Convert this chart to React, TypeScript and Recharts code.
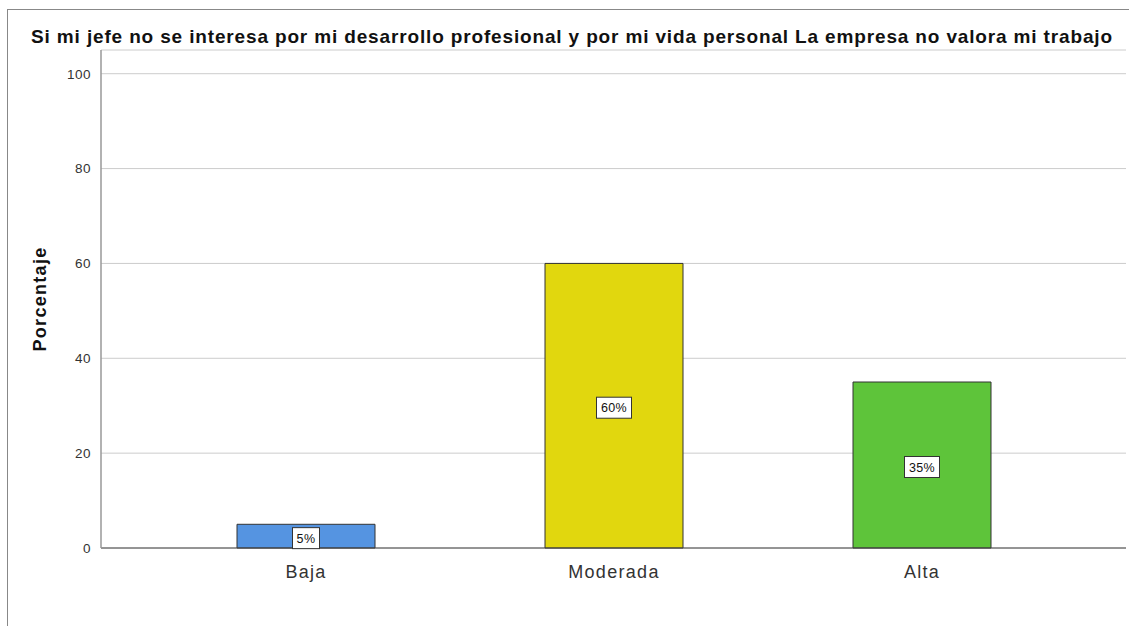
import React from "react";
import { BarChart, Bar, XAxis, YAxis, CartesianGrid, Cell, LabelList } from "recharts";

const categories = ["Baja", "Moderada", "Alta"];
const values = [5, 60, 35];
const labels = ["5%", "60%", "35%"];
const colors = ["#5594E1", "#E1D70E", "#5EC43A"];
const yTicks = [0, 20, 40, 60, 80, 100];
const title = "Si mi jefe no se interesa por mi desarrollo profesional y por mi vida personal La empresa no valora mi trabajo";

const data = categories.map((c, i) => ({ name: c, value: values[i], label: labels[i] }));

const FONT = "'Liberation Sans', Arial, sans-serif";

const renderLabel = (props: any) => {
  const { x, y, width, height, index } = props;
  const text = labels[index];
  const cx = Number(x) + Number(width) / 2;
  const cy = Number(y) + Number(height) / 2 + 2;
  const w = text.length * 8 + 11;
  const h = 21;
  return (
    <g>
      <rect x={cx - w / 2} y={cy - h / 2} width={w} height={h} fill="#ffffff" stroke="#333333" strokeWidth={1} />
      <text x={cx} y={cy + 4.5} textAnchor="middle" fontSize={12.5} letterSpacing={0.4} fontFamily={FONT} fill="#111">
        {text}
      </text>
    </g>
  );
};

export default function App() {
  return (
    <div style={{ position: "absolute", left: 0, top: 0, width: 1129, height: 626, background: "#fff", fontFamily: FONT }}>
      <div style={{ position: "absolute", left: 7, top: 9, width: 1122, height: 617, borderTop: "1px solid #888", borderLeft: "1px solid #888" }} />
      <div
        style={{
          position: "absolute",
          left: 0,
          width: 1144,
          top: 27,
          textAlign: "center",
          fontWeight: "bold",
          fontSize: 19,
          letterSpacing: 0.85,
          lineHeight: "20px",
          color: "#111",
          whiteSpace: "nowrap",
        }}
      >
        {title}
      </div>
      <div style={{ position: "absolute", left: 0, top: 0 }}>
        <BarChart width={1129} height={626} data={data} margin={{ top: 50, right: 3, left: 0, bottom: 0 }} barSize={138}>
          <CartesianGrid vertical={false} stroke="#cccccc" strokeWidth={1} />
          <XAxis
            dataKey="name"
            height={78}
            tickLine={false}
            axisLine={{ stroke: "#444", strokeWidth: 1 }}
            padding={{ left: 51, right: 50 }}
            tick={{ fontSize: 18, fill: "#333", fontFamily: FONT, letterSpacing: 1.3 }}
            tickMargin={11}
          />
          <YAxis
            width={101}
            domain={[0, 105]}
            ticks={yTicks}
            tickLine={false}
            axisLine={{ stroke: "#999", strokeWidth: 1.5 }}
            tick={{ fontSize: 13.5, fill: "#333", fontFamily: FONT, letterSpacing: 0.5 }}
            tickMargin={4}
            label={{
              value: "Porcentaje",
              angle: -90,
              position: "insideLeft",
              offset: 40,
              style: { fontSize: 18, fontWeight: "bold", fill: "#111", fontFamily: FONT, textAnchor: "middle", letterSpacing: 1.3 },
            }}
          />
          <Bar dataKey="value" stroke="#333" strokeWidth={1} isAnimationActive={false}>
            {data.map((d, i) => (
              <Cell key={d.name} fill={colors[i]} />
            ))}
            <LabelList dataKey="label" content={renderLabel} />
          </Bar>
        </BarChart>
      </div>
    </div>
  );
}
